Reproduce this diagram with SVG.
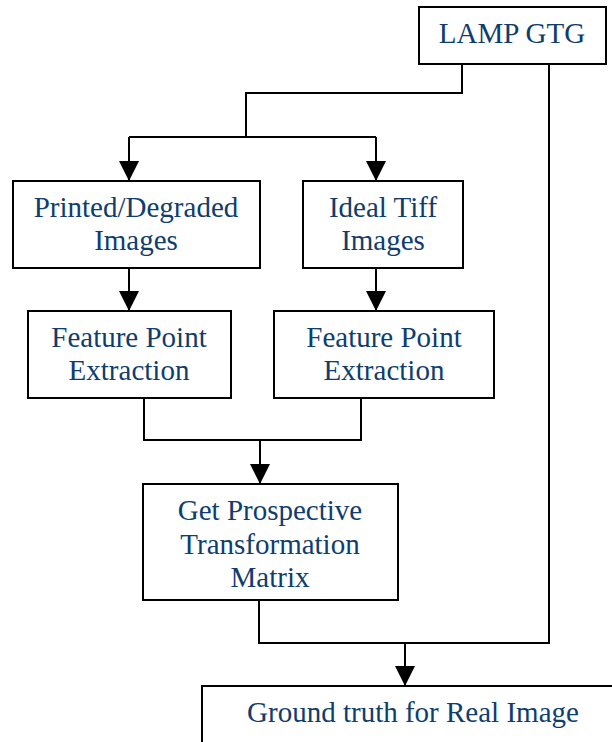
<svg xmlns="http://www.w3.org/2000/svg" width="612" height="742" viewBox="0 0 612 742">
<style>
.box{fill:#fff;stroke:#000;stroke-width:2}
.t{font-family:"Liberation Serif","Times New Roman",serif;font-size:29px;fill:#0f3d6e;text-anchor:middle}
.c{fill:none;stroke:#000;stroke-width:2}
</style>
<defs>
<marker id="ah" markerWidth="20" markerHeight="20" viewBox="0 0 20 20" refX="20" refY="10" orient="auto" markerUnits="userSpaceOnUse">
<path d="M0,0 L20,10 L0,20 Z" fill="#000"/>
</marker>
</defs>
<rect width="612" height="742" fill="#fff"/>
<g id="connectors">
<path class="c" d="M462,64 V93 H246 V137"/>
<path class="c" d="M129,137 H376"/>
<path class="c" d="M129,137 V181" marker-end="url(#ah)"/>
<path class="c" d="M376,137 V181" marker-end="url(#ah)"/>
<path class="c" d="M129,268 V311" marker-end="url(#ah)"/>
<path class="c" d="M376,268 V311" marker-end="url(#ah)"/>
<path class="c" d="M144,398 V440 H361 V398"/>
<path class="c" d="M260,440 V484" marker-end="url(#ah)"/>
<path class="c" d="M549,64 V643 H259 V600"/>
<path class="c" d="M405,643 V686" marker-end="url(#ah)"/>
</g>
<g id="lamp">
<rect class="box" x="419" y="7" width="187" height="57"/>
<text class="t" x="512" y="43">LAMP GTG</text>
</g>
<g id="printed">
<rect class="box" x="13" y="181" width="247" height="87"/>
<text class="t" x="136" y="217">Printed/Degraded</text>
<text class="t" x="136" y="250">Images</text>
</g>
<g id="ideal">
<rect class="box" x="303" y="181" width="160" height="87"/>
<text class="t" x="383" y="217">Ideal Tiff</text>
<text class="t" x="383" y="250">Images</text>
</g>
<g id="fpe1">
<rect class="box" x="28" y="311" width="203" height="87"/>
<text class="t" x="129" y="347">Feature Point</text>
<text class="t" x="129" y="380">Extraction</text>
</g>
<g id="fpe2">
<rect class="box" x="274" y="311" width="220" height="87"/>
<text class="t" x="384" y="347">Feature Point</text>
<text class="t" x="384" y="380">Extraction</text>
</g>
<g id="gptm">
<rect class="box" x="143" y="484" width="255" height="116"/>
<text class="t" x="270" y="520">Get Prospective</text>
<text class="t" x="270" y="554">Transformation</text>
<text class="t" x="270" y="587">Matrix</text>
</g>
<g id="ground">
<rect class="box" x="202" y="686" width="420" height="70"/>
<text class="t" x="413" y="722">Ground truth for Real Image</text>
</g>
</svg>
